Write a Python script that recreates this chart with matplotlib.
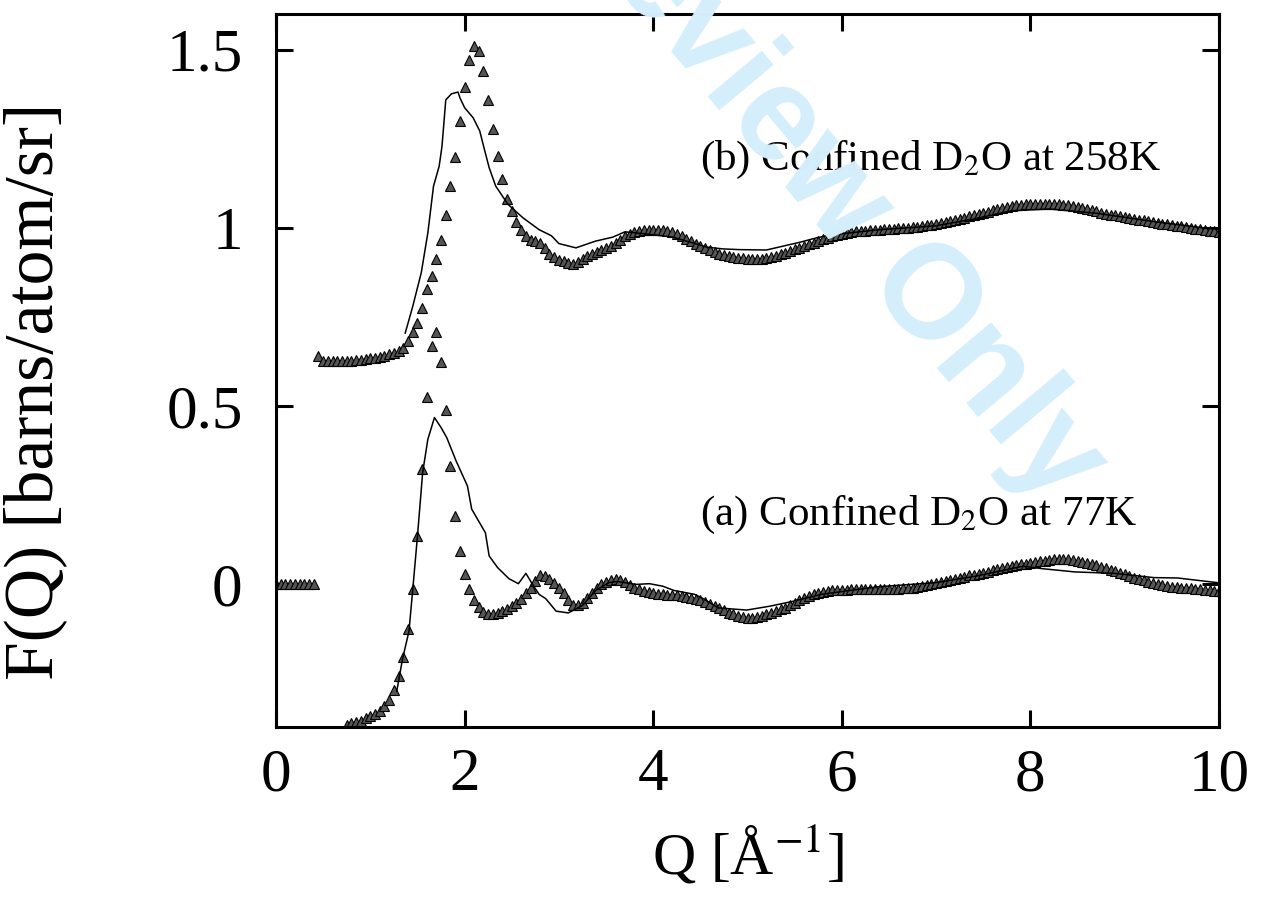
import numpy as np
import matplotlib.pyplot as plt

plt.rcParams['font.family'] = ['Liberation Serif', 'DejaVu Serif']
plt.rcParams['mathtext.fontset'] = 'stix'

# sampling grid of the measured data (step 0.05 1/A)
Q_STEP = 0.05

# (b) 258K measured, Q = 0.45 ... 10.00
q0_258 = 0.45
f_258 = [
    0.640, 0.627, 0.626, 0.626, 0.626, 0.627, 0.627, 0.628, 0.629, 0.630,
    0.632, 0.634, 0.636, 0.639, 0.642, 0.646, 0.650, 0.656, 0.664, 0.682,
    0.707, 0.733, 0.774, 0.829, 0.866, 0.913, 0.965, 1.036, 1.117, 1.199,
    1.301, 1.396, 1.471, 1.510, 1.496, 1.440, 1.360, 1.278, 1.203, 1.138,
    1.082, 1.046, 1.017, 0.995, 0.977, 0.967, 0.963, 0.958, 0.943, 0.928,
    0.918, 0.911, 0.906, 0.902, 0.898, 0.905, 0.913, 0.920, 0.927, 0.932,
    0.937, 0.944, 0.950, 0.959, 0.967, 0.977, 0.983, 0.988, 0.991, 0.993,
    0.994, 0.994, 0.994, 0.993, 0.991, 0.988, 0.984, 0.977, 0.970, 0.963,
    0.955, 0.949, 0.943, 0.937, 0.932, 0.927, 0.923, 0.920, 0.918, 0.916,
    0.915, 0.914, 0.913, 0.913, 0.914, 0.916, 0.919, 0.922, 0.926, 0.930,
    0.935, 0.940, 0.944, 0.949, 0.954, 0.958, 0.963, 0.968, 0.972, 0.977,
    0.981, 0.984, 0.986, 0.988, 0.990, 0.991, 0.992, 0.993, 0.994, 0.995,
    0.996, 0.997, 0.998, 0.999, 1.000, 1.001, 1.002, 1.003, 1.005, 1.007,
    1.009, 1.011, 1.014, 1.017, 1.020, 1.023, 1.026, 1.029, 1.032, 1.035,
    1.038, 1.042, 1.045, 1.049, 1.052, 1.055, 1.058, 1.061, 1.063, 1.065,
    1.066, 1.067, 1.067, 1.068, 1.068, 1.068, 1.067, 1.066, 1.065, 1.063,
    1.061, 1.059, 1.056, 1.053, 1.049, 1.046, 1.043, 1.040, 1.037, 1.035,
    1.032, 1.030, 1.027, 1.025, 1.023, 1.021, 1.018, 1.016, 1.014, 1.012,
    1.010, 1.008, 1.006, 1.004, 1.002, 1.000, 0.998, 0.996, 0.994, 0.992,
    0.990, 0.988,
]

# (a) 77K measured, Q = 0.00 ... 10.00 (nan = below the plotted range)
q0_77 = 0.0
f_77 = [
    0.0, 0.0, 0.0, 0.0, 0.0, 0.0, 0.0, 0.0, 0.0,
    np.nan, np.nan, np.nan, np.nan, np.nan, np.nan,
    -0.393, -0.389, -0.386, -0.382, -0.376, -0.370, -0.364, -0.354, -0.342, -0.323,
    -0.295, -0.256, -0.204, -0.124, -0.012, 0.136, 0.323, 0.527, 0.668, 0.709,
    0.625, 0.488, 0.332, 0.192, 0.094, 0.028, -0.014, -0.044, -0.064, -0.078,
    -0.082, -0.082, -0.080, -0.075, -0.070, -0.061, -0.051, -0.040, -0.025, -0.009,
    0.009, 0.025, 0.023, 0.016, 0.003, -0.009, -0.025, -0.045, -0.059, -0.059,
    -0.051, -0.038, -0.023, -0.009, 0.000, 0.008, 0.012, 0.014, 0.012, 0.007,
    -0.001, -0.009, -0.014, -0.019, -0.021, -0.025, -0.026, -0.028, -0.029, -0.030,
    -0.031, -0.032, -0.034, -0.037, -0.040, -0.044, -0.049, -0.055, -0.061, -0.067,
    -0.073, -0.079, -0.084, -0.088, -0.091, -0.093, -0.093, -0.091, -0.088, -0.084,
    -0.080, -0.075, -0.070, -0.065, -0.059, -0.052, -0.045, -0.038, -0.032, -0.027,
    -0.023, -0.020, -0.018, -0.017, -0.016, -0.015, -0.015, -0.014, -0.014, -0.014,
    -0.014, -0.014, -0.014, -0.013, -0.013, -0.013, -0.012, -0.012, -0.011, -0.010,
    -0.009, -0.008, -0.005, -0.002, 0.001, 0.003, 0.006, 0.010, 0.013, 0.016,
    0.019, 0.022, 0.025, 0.027, 0.030, 0.033, 0.036, 0.039, 0.042, 0.045,
    0.048, 0.051, 0.053, 0.056, 0.058, 0.061, 0.063, 0.065, 0.067, 0.069,
    0.070, 0.071, 0.072, 0.071, 0.069, 0.067, 0.064, 0.061, 0.058, 0.054,
    0.050, 0.045, 0.041, 0.037, 0.032, 0.028, 0.023, 0.019, 0.015, 0.012,
    0.008, 0.005, 0.002, -0.001, -0.004, -0.007, -0.008, -0.009, -0.010, -0.011,
    -0.013, -0.014, -0.016, -0.017, -0.018, -0.019,
]

# simulation curves
q_sim_258 = [1.37, 1.45, 1.54, 1.61, 1.67, 1.73, 1.76, 1.80, 1.86, 1.93, 1.95, 2.00,
             2.09, 2.16, 2.21, 2.26, 2.33, 2.46, 2.62, 2.79, 2.92, 3.00, 3.18, 3.39,
             3.57, 3.70, 3.89, 4.21, 4.39, 4.57, 4.74, 4.92, 5.20, 5.38, 5.56, 5.73,
             5.84, 5.98, 6.40, 6.80, 7.00, 7.40, 7.80, 8.20, 8.70, 9.30, 9.90, 10.0]
f_sim_258 = [0.705, 0.780, 0.874, 0.986, 1.117, 1.173, 1.229, 1.359, 1.376, 1.381, 1.365, 1.337,
             1.309, 1.272, 1.220, 1.169, 1.117, 1.066, 1.028, 0.995, 0.978, 0.956, 0.944, 0.963,
             0.974, 0.989, 0.984, 0.974, 0.960, 0.946, 0.941, 0.939, 0.938, 0.949, 0.960, 0.972,
             0.978, 0.983, 0.995, 1.002, 1.006, 1.025, 1.048, 1.053, 1.041, 1.018, 0.998, 0.997]

q_sim_77 = [1.28, 1.34, 1.41, 1.45, 1.50, 1.555, 1.61, 1.68, 1.75, 1.81, 1.91, 2.03,
            2.075, 2.22, 2.26, 2.35, 2.47, 2.57, 2.65, 2.72, 2.79, 2.86, 2.97, 3.10,
            3.25, 3.39, 3.53, 3.62, 3.82, 3.96, 4.10, 4.22, 4.44, 4.53, 4.69, 4.99,
            5.24, 5.49, 5.78, 6.37, 7.00, 7.42, 7.92, 8.13, 8.47, 8.89, 9.31, 9.56, 9.98]
f_sim_77 = [-0.300, -0.211, -0.131, -0.014, 0.136, 0.314, 0.407, 0.468, 0.440, 0.412, 0.346, 0.276,
            0.211, 0.145, 0.080, 0.047, 0.016, 0.002, 0.031, 0.000, -0.028, -0.040, -0.075, -0.080,
            -0.059, -0.017, 0.005, 0.008, 0.000, 0.002, -0.005, -0.017, -0.028, -0.040, -0.066, -0.072,
            -0.061, -0.047, -0.028, -0.007, 0.005, 0.023, 0.051, 0.044, 0.035, 0.031, 0.019, 0.018, 0.005]

x_ticks = [0, 2, 4, 6, 8, 10]
y_ticks = [0, 0.5, 1, 1.5]
y_tick_labels = ['0', '0.5', '1', '1.5']


def main():
    q_258 = q0_258 + Q_STEP * np.arange(len(f_258))
    q_77 = q0_77 + Q_STEP * np.arange(len(f_77))

    fig = plt.figure(figsize=(12.61, 9.14), dpi=100)
    ax = fig.add_axes([0.2189, 0.2046, 0.7478, 0.7801])
    ax.patch.set_visible(False)

    # watermark
    fig.text(0.655, 0.80, 'Review Only', family='Liberation Sans', fontsize=96,
             fontweight='bold', color='#d4eefb', rotation=-50,
             ha='center', va='center', zorder=0)

    tri = dict(ls='none', marker='^', ms=6.5, mfc='#555555', mec='black', mew=0.8)
    ax.plot(q_258, f_258, **tri)
    ax.plot(q_77, f_77, **tri)
    ax.plot(q_sim_258, f_sim_258, color='black', lw=1.1)
    ax.plot(q_sim_77, f_sim_77, color='black', lw=1.1)

    ax.text(4.5, 1.19, '(b) Confined D$_2$O at 258K', fontsize=31, va='center')
    ax.text(4.5, 0.195, '(a) Confined D$_2$O at 77K', fontsize=31, va='center')

    ax.set_xlim(0, 10)
    ax.set_ylim(-0.4, 1.6)
    ax.set_xticks(x_ticks)
    ax.set_yticks(y_ticks)
    ax.set_yticklabels(y_tick_labels)
    ax.tick_params(direction='in', length=12, width=2.2, labelsize=44,
                   top=True, right=True)
    ax.tick_params(axis='y', pad=24)
    ax.tick_params(axis='x', pad=15)
    for s in ax.spines.values():
        s.set_linewidth(2.2)

    ax.set_xlabel('Q [Å$^{-1}$]', fontsize=43, labelpad=14)
    ax.set_ylabel('F(Q) [barns/atom/sr]', fontsize=50)
    ax.yaxis.set_label_coords(-0.222, 0.47)

    fig.savefig('out.png', dpi=100)


main()
